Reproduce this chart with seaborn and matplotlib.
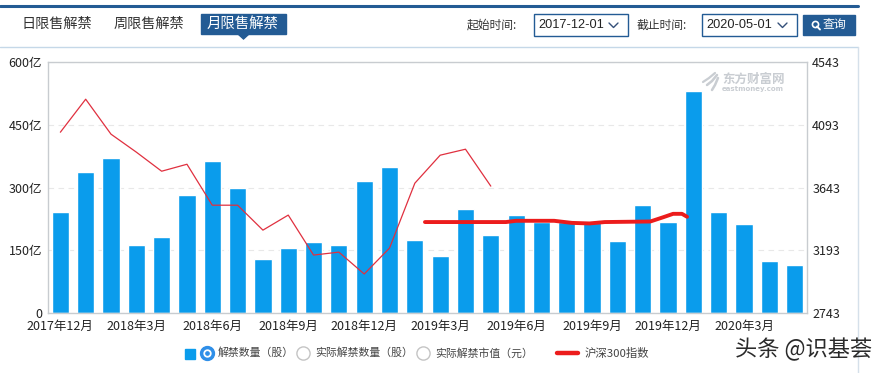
import numpy as np
import pandas as pd
import matplotlib.pyplot as plt
from matplotlib.patches import Rectangle, Polygon
from matplotlib.lines import Line2D
import seaborn as sns

sns.set_theme(style='white')
plt.rcParams['font.family'] = ['Noto Sans CJK SC', 'DejaVu Sans']

# Monthly data, 2017-12 to 2020-05
months = ['2017年12月', '2018年1月', '2018年2月', '2018年3月', '2018年4月', '2018年5月',
          '2018年6月', '2018年7月', '2018年8月', '2018年9月', '2018年10月', '2018年11月',
          '2018年12月', '2019年1月', '2019年2月', '2019年3月', '2019年4月', '2019年5月',
          '2019年6月', '2019年7月', '2019年8月', '2019年9月', '2019年10月', '2019年11月',
          '2019年12月', '2020年1月', '2020年2月', '2020年3月', '2020年4月', '2020年5月']
unlock = [241, 338, 370, 162, 182, 282, 363, 299, 129, 155, 170, 162, 316, 349, 174,
          136, 249, 186, 234, 217, 217, 220, 172, 258, 217, 531, 241, 213, 124, 115]

# Thin index line
index_thin = [4041, 4278, 4027, 3898, 3761, 3811, 3517, 3517, 3338, 3446, 3159, 3180,
              3023, 3209, 3675, 3876, 3919, 3654]

# Thick hand drawn line
thick_x = [14.4, 17.6, 18, 19.5, 20.2, 20.9, 21.5, 23.3, 23.8, 24.2, 24.55, 24.75]
thick_y = [3396, 3396, 3405, 3405, 3390, 3386, 3396, 3400, 3430, 3455, 3455, 3434]

left_ticks = [0, 150, 300, 450, 600]
left_labels = ['0', '150亿', '300亿', '450亿', '600亿']
right_ticks = [2743, 3193, 3643, 4093, 4543]

W, H = 885, 373
BLUE = '#0a9cec'
NAVY = '#235b94'
WATER = '#c9cdd2'


def fx(x):
    return x / W


def fy(y):
    return 1 - y / H


def txt(x, y, s, size=9, color='#333333', ha='left', **kw):
    fig.text(fx(x), fy(y), s, fontsize=size, color=color, ha=ha, va='center', **kw)


def rect(x0, y0, x1, y1, **kw):
    fig.add_artist(Rectangle((fx(x0), fy(y1)), (x1 - x0) / W, (y1 - y0) / H,
                             transform=fig.transFigure, **kw))


def seg(xs, ys, color, lw):
    fig.add_artist(Line2D([fx(v) for v in xs], [fy(v) for v in ys], color=color, lw=lw))


def dot(x, y, ms, face, edge=None, mew=1.0):
    fig.add_artist(Line2D([fx(x)], [fy(y)], marker='o', ms=ms, mfc=face, mec=edge or face, mew=mew, ls=''))


fig = plt.figure(figsize=(8.85, 3.73), dpi=100)
ax = fig.add_axes([fx(47.7), fy(313), 759.6 / W, 250.7 / H])

df = pd.DataFrame({'month': months, 'unlock': unlock})
sns.barplot(data=df, x='month', y='unlock', color=BLUE, saturation=1, width=0.68, ax=ax, zorder=2)
ax.set_xlim(-0.5, 29.5)
ax.set_ylim(0, 600)
ax.set_xlabel('')
ax.set_ylabel('')
ax.set_xticks(range(0, 30, 3))
ax.set_xticklabels(months[::3], fontsize=9, color='#222222')
ax.set_yticks(left_ticks)
ax.set_yticklabels(left_labels, fontsize=9, color='#222222')
ax.tick_params(length=0, pad=4)
ax.tick_params(axis='x', pad=5)
ax.yaxis.grid(True, color='#e8e8e8', lw=0.8, ls=(0, (5, 4)), zorder=0)
ax.set_axisbelow(True)
for s in ax.spines.values():
    s.set_color('#c8ccd0')
    s.set_linewidth(1)

ax2 = ax.twinx()
sns.lineplot(x=np.arange(len(index_thin)), y=index_thin, color='#e0303f', lw=0.9, ax=ax2, errorbar=None)
sns.lineplot(x=thick_x, y=thick_y, color='#ec1c1c', lw=2.8, ax=ax2, errorbar=None, sort=False)
ax2.set_ylim(2743, 4543)
ax2.set_yticks(right_ticks)
ax2.set_yticklabels([str(v) for v in right_ticks], fontsize=9, color='#222222')
ax2.tick_params(length=0, pad=3.5)
ax2.grid(False)
ax2.set_ylabel('')
for s in ax2.spines.values():
    s.set_visible(False)

# Watermark inside the plot
txt(722, 79.5, '东方财富网', size=9, color=WATER, fontweight='bold')
txt(722, 89.5, 'eastmoney.com', size=5, color=WATER, family='DejaVu Sans', fontweight='bold')
seg([703, 709, 715], [82, 78, 73], WATER, 1.6)
seg([707, 712, 717], [85, 81, 75], WATER, 1.8)
seg([712, 715, 718], [90, 85, 78], WATER, 1.8)

# Top header
seg([0, 858], [5.5, 5.5], NAVY, 2.2)
seg([0, 858], [46.5, 46.5], '#c5d8e8', 1)
seg([858, 858], [46.5, 373], '#d5e0ea', 1)
txt(21, 24, '日限售解禁', size=10.2, color='#333333')
txt(114, 24, '周限售解禁', size=10.2, color='#333333')
rect(201, 14, 286, 34, color=NAVY)
fig.add_artist(Polygon([(fx(238), fy(34)), (fx(249), fy(34)), (fx(243.5), fy(39))], closed=True,
                       transform=fig.transFigure, color=NAVY))
txt(207, 24, '月限售解禁', size=10.4, color='white')
txt(467, 25, '起始时间:', size=8.5)
rect(534, 14, 628, 36, facecolor='white', edgecolor=NAVY, lw=1)
txt(538, 25, '2017-12-01', size=9.2, color='#222222', family='Liberation Sans')
seg([609, 613.5, 618], [23, 27.5, 23], '#35507a', 1)
txt(637, 25, '截止时间:', size=8.5)
rect(702, 14, 796.5, 36, facecolor='white', edgecolor=NAVY, lw=1)
txt(706, 25, '2020-05-01', size=9.2, color='#222222', family='Liberation Sans')
seg([778, 782.5, 787], [23, 27.5, 23], '#35507a', 1)
rect(803, 15, 855, 34.5, color=NAVY)
txt(822.5, 24.5, '查询', size=8.6, color='white')
dot(814.5, 24, 4.4, 'none', 'white', 1.2)
seg([817, 820], [26.5, 29.5], 'white', 1.4)

# Legend row
rect(185, 349, 195, 358.5, color=BLUE)
dot(207, 353, 10, '#2f8fe8')
dot(207, 353, 5, 'white')
dot(207, 353, 2.4, '#2f8fe8')
dot(303, 353, 9.5, 'white', '#c4c4c4')
dot(423, 353, 9.5, 'white', '#c4c4c4')
txt(218, 353, '解禁数量（股）', size=7.8, color='#444444')
txt(315, 353, '实际解禁数量（股）', size=7.8, color='#444444')
txt(435, 353, '实际解禁市值（元）', size=7.8, color='#444444')
seg([557, 578], [353, 353], '#ec1c1c', 3.2)
txt(585, 353, '沪深300指数', size=8.2, color='#444444')

# Site watermark
txt(735, 349, '头条 @识基荟', size=16, color='#2a2a2a')

fig.savefig('out.png', dpi=100)
